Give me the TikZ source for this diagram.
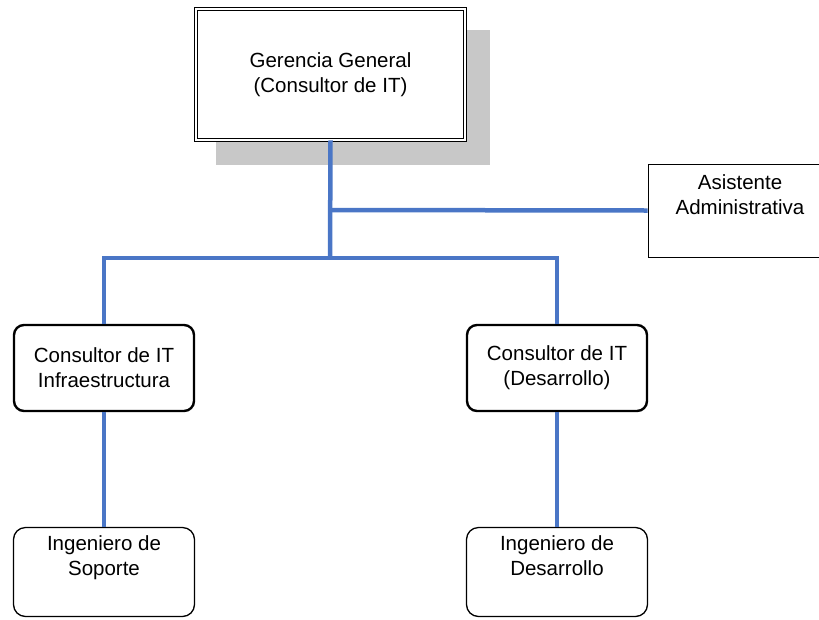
\documentclass[tikz,border=0pt]{standalone}
\usepackage{fontspec}
\setmainfont{Liberation Sans}
\definecolor{linkblue}{HTML}{4A76C6}
\definecolor{shadowgray}{HTML}{C8C8C8}
\begin{document}
\begin{tikzpicture}[x=1pt,y=-1pt,
    every node/.style={font=\fontsize{20.5}{25}\selectfont,align=center,inner sep=0pt},
    link/.style={draw=linkblue,line width=4.5pt},
    headbox/.style={draw,double,double distance=2.4pt,line width=0.9pt,fill=white,minimum width=269,minimum height=131},
    plainbox/.style={draw,line width=1pt,minimum width=184,minimum height=93},
    midbox/.style={draw,rounded corners=10,line width=2.4pt,minimum width=180,minimum height=86},
    lowbox/.style={draw,rounded corners=12,line width=1.3pt,minimum width=181,minimum height=89}]
      \useasboundingbox (0,0) rectangle (819,619);
      \fill[shadowgray] (216,30) rectangle (490,165);
      \node[headbox] (gg) at (330.5,74.5) {Gerencia General\\ (Consultor de IT)};
      \node[plainbox] (asist) at (740,210.5) {Asistente\\Administrativa\\\strut};
      \node[midbox] (ci) at (104,368) {Consultor de IT\\Infraestructura};
      \node[midbox] (cd) at (557,368) {Consultor de IT\\(Desarrollo)};
      \node[lowbox] (is) at (104,572) {Ingeniero de\\Soporte\\\strut};
      \node[lowbox] (id) at (557,572) {Ingeniero de\\Desarrollo\\\strut};
      \coordinate (tap) at (330,210);
      \coordinate (bus) at (330,258);
      \draw[link] (gg.south) -- (bus);
      \draw[link] (tap) -- (asist.west);
      \draw[link] (ci.north) |- (bus) -| (cd.north);
      \draw[link] (ci.south) -- (is.north);
      \draw[link] (cd.south) -- (id.north);
    \end{tikzpicture}
\end{document}
